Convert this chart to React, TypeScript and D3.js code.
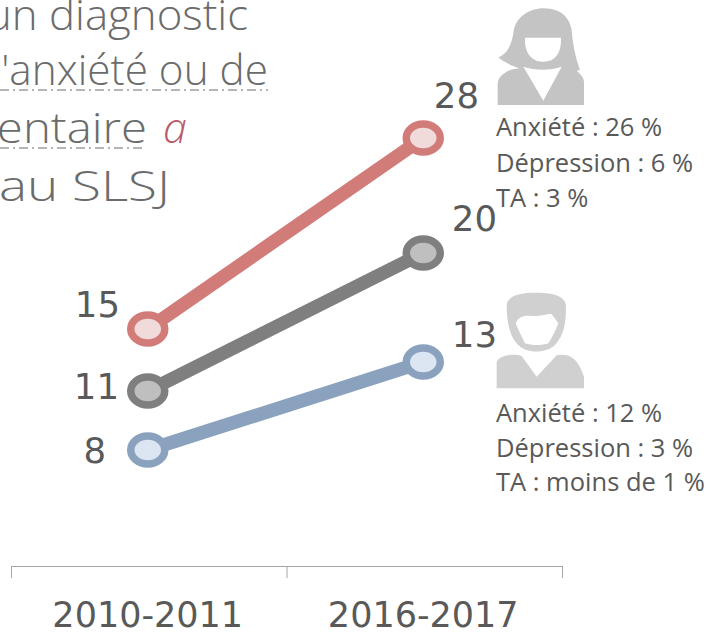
import React from "react";
import * as d3 from "d3";

const categories = ["2010-2011", "2016-2017"];
const seriesNames = ["Femmes", "Total", "Hommes"];
const femmes = [15, 28];
const total = [11, 20];
const hommes = [8, 13];

const womenLines = ["Anxiété : 26 %", "Dépression : 6 %", "TA : 3 %"];
const menLines = ["Anxiété : 12 %", "Dépression : 3 %", "TA : moins de 1 %"];

const lineColors = ["#d27c7a", "#7f7f7f", "#8aa2bd"];
const fillColors = ["#f0dada", "#bfbfbf", "#dce6f2"];
const textColor = "#595959";
const hand = "'Open Sans', sans-serif";
const numbers = "'DejaVu Sans', sans-serif";

// the plotted positions are not quite linear, so the scale has several stops
const y = d3.scaleLinear()
  .domain([8, 11, 13, 15, 20, 28])
  .range([450, 391, 362, 329, 253, 138]);

const x = d3.scaleBand().domain(categories).range([11, 562]);
const cx = (c: string) => x(c)! + x.bandwidth() / 2 - 1;

const line = d3.line<number>()
  .x((d, i) => cx(categories[i]))
  .y(d => y(d));

const series = [femmes, total, hommes];

// pictograms traced at 3x, drawn through a scale(1/3) group
const womanHair = "M53 315 L53 250 C55 228 80 208 118 205 C100 198 75 190 55 172 C85 160 95 130 100 100 C105 50 150 25 190 25 C250 25 270 60 275 90 C278 130 285 170 300 210 L290 212 C302 222 312 235 312 245 L312 315 Z";
const womanFace = "M135 113 H243 C245 160 225 185 190 185 C155 185 133 160 135 113 Z";
const womanNeck = "M130 200 C165 212 210 212 245 200 L190 302 Z";
const manHead = "M80 75 C85 45 120 38 170 38 C225 38 258 50 258 80 C258 130 252 165 225 195 C200 220 140 222 115 195 C90 170 80 130 80 75 Z";
const manFace = "M107 130 C120 100 145 108 170 108 C190 108 205 100 215 103 L235 130 C225 155 215 175 205 190 C185 197 155 197 135 190 C125 170 115 150 107 130 Z";
const manBody = "M50 325 L50 245 C60 225 100 220 125 228 L170 290 L230 226 C270 218 295 238 312 290 L312 325 Z";

export default function App() {
  const [x0, x1] = x.range();
  const axisTicks = [x0, x0 + x.step(), x1];
  return (
    <svg width={708} height={632} style={{ position: "absolute", left: 0, top: 0, background: "#fff" }}>
      {/* title, cut by the left edge like in the source image */}
      <g fontFamily={hand} fontWeight={300} fontSize={43} fill="#6b6b6b">
        <text x={-14} y={30} textLength={262} lengthAdjust="spacingAndGlyphs">un diagnostic</text>
        <text x={-24} y={85} textLength={292} lengthAdjust="spacingAndGlyphs">d'anxiété ou de</text>
        <text x={-45} y={143} textLength={192} lengthAdjust="spacingAndGlyphs">mentaire</text>
        <text x={163} y={143} fill="#b85c6b" fontStyle="italic">a</text>
        <text x={-1} y={201} textLength={171} lengthAdjust="spacingAndGlyphs">au SLSJ</text>
      </g>
      <line x1={0} x2={268} y1={90} y2={90} stroke="#b5b5b5" strokeWidth={2} strokeDasharray="9 4 2 4" />
      <line x1={0} x2={145} y1={148} y2={148} stroke="#b5b5b5" strokeWidth={2} strokeDasharray="9 4 2 4" />

      {/* lines and markers */}
      {series.map((s, i) => (
        <g key={seriesNames[i]}>
          <path d={line(s)!} fill="none" stroke={lineColors[i]} strokeWidth={13.5} />
          {s.map((v, j) => (
            <ellipse
              key={j}
              cx={cx(categories[j])}
              cy={y(v)}
              rx={17}
              ry={14}
              fill={fillColors[i]}
              stroke={lineColors[i]}
              strokeWidth={7.5}
            />
          ))}
        </g>
      ))}

      {/* value labels */}
      <g fontFamily={numbers} fontSize={35.5} fill={textColor}>
        <text x={120} y={317} textAnchor="end">{femmes[0]}</text>
        <text x={119} y={399} textAnchor="end">{total[0]}</text>
        <text x={106} y={463} textAnchor="end">{hommes[0]}</text>
        <text x={479} y={108} textAnchor="end">{femmes[1]}</text>
        <text x={497} y={231} textAnchor="end">{total[1]}</text>
        <text x={497} y={347} textAnchor="end">{hommes[1]}</text>
      </g>

      {/* pictograms */}
      <g transform="translate(480,0) scale(0.3333)">
        <path d={womanHair} fill="#c4c4c4" />
        <path d={womanFace} fill="#fff" />
        <path d={womanNeck} fill="#fff" />
      </g>
      <g transform="translate(480,280) scale(0.3333)">
        <path d={manHead} fill="#d0d0d0" />
        <path d={manFace} fill="#fff" />
        <path d={manBody} fill="#d0d0d0" />
      </g>

      {/* text next to the pictograms */}
      <g fontFamily="'Open Sans', sans-serif" fontSize={25.5} fill={textColor}>
        {womenLines.map((t, i) => (
          <text key={t} x={496} y={136 + i * 35.5}>{t}</text>
        ))}
        {menLines.map((t, i) => (
          <text key={t} x={496} y={422 + i * 34.5}>{t}</text>
        ))}
      </g>

      {/* axis */}
      <path
        d={`M${x0} 566.5 H${x1 + 1} ` + axisTicks.map(t => `M${t + 0.5} 566 V578`).join(" ")}
        fill="none"
        stroke="#a6a6a6"
        strokeWidth={1}
      />
      <g fontFamily={numbers} fontSize={35} fill={textColor} textAnchor="middle">
        {categories.map(c => (
          <text key={c} x={cx(c)} y={627}>{c}</text>
        ))}
      </g>
    </svg>
  );
}
